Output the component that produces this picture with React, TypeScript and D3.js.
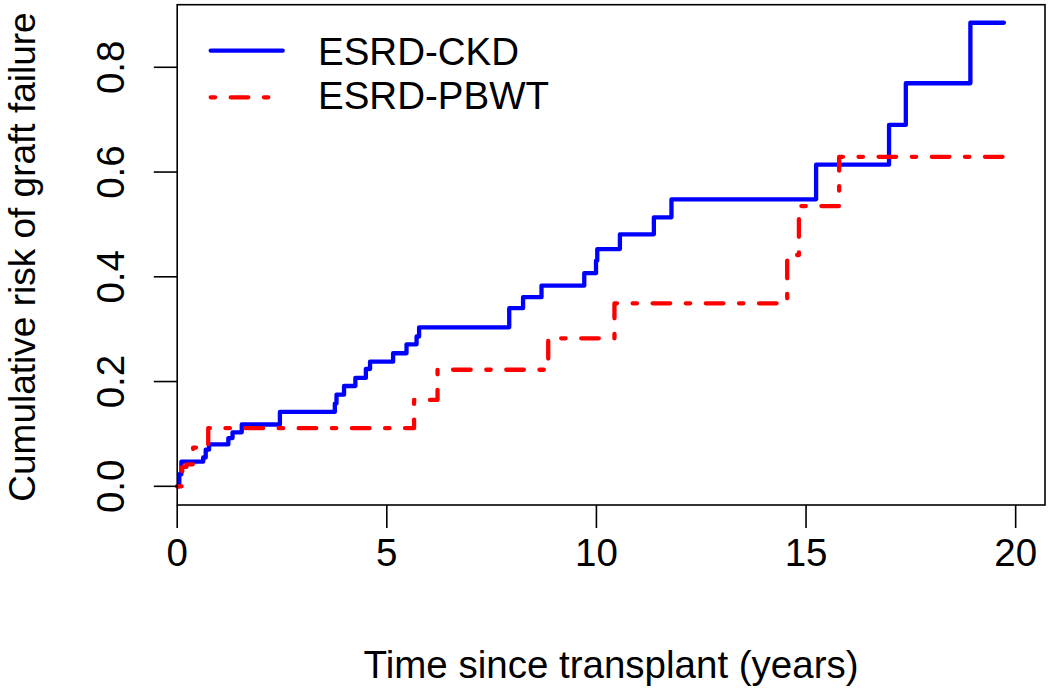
import React from "react";
import * as d3 from "d3";

const ckdTimes = [0, 0.05, 0.1, 0.62, 0.68, 0.76, 1.22, 1.32, 1.54, 2.45, 3.76, 3.8, 3.98, 4.25, 4.5, 4.6, 5.15, 5.47, 5.71, 5.77, 7.92, 8.25, 8.69, 9.71, 9.99, 10.02, 10.56, 11.37, 11.79, 15.24, 16.98, 17.38, 18.92, 19.72];
const ckdRisk = [0, 0.023, 0.047, 0.055, 0.07, 0.08, 0.092, 0.103, 0.118, 0.142, 0.158, 0.175, 0.1915, 0.207, 0.224, 0.238, 0.254, 0.271, 0.286, 0.3036, 0.34, 0.361, 0.383, 0.407, 0.431, 0.453, 0.481, 0.5136, 0.548, 0.614, 0.69, 0.7695, 0.885, 0.885];

const pbwtTimes = [0, 0.12, 0.22, 0.38, 0.74, 5.65, 6.21, 8.85, 10.43, 14.55, 14.83, 15.79, 19.72];
const pbwtRisk = [0, 0.037, 0.042, 0.074, 0.111, 0.165, 0.2225, 0.2826, 0.3494, 0.4416, 0.535, 0.629, 0.629];

const xTicks = [0, 5, 10, 15, 20];
const yTicks = [0, 0.2, 0.4, 0.6, 0.8];
const seriesNames = ["ESRD-CKD", "ESRD-PBWT"];

const FONT = "'Liberation Sans', Arial, Helvetica, sans-serif";

export default function App() {
  const left = 177.2, right = 1045, top = 4.7, bottom = 505;
  const x = d3.scaleLinear().domain([0, 20.7]).range([left, right]);
  const y = d3.scaleLinear().domain([-0.0357, 0.9195]).range([bottom, top]);

  const line = d3
    .line<[number, number]>()
    .x((d) => x(d[0]))
    .y((d) => y(d[1]))
    .curve(d3.curveStepAfter);

  const ckd = line(ckdTimes.map((t, i) => [t, ckdRisk[i]] as [number, number])) || "";
  const pbwt = line(pbwtTimes.map((t, i) => [t, pbwtRisk[i]] as [number, number])) || "";

  const fs = 38.5;
  const dash = "4.4 15.6 17.6 15.6";

  return (
    <div style={{ position: "absolute", left: 0, top: 0 }}>
      <svg width={1050} height={692} style={{ display: "block", background: "#fff" }}>
        <rect x={0} y={0} width={1050} height={692} fill="#fff" />
        <path d={ckd} fill="none" stroke="#0000ff" strokeWidth={4.3} strokeLinejoin="round" strokeLinecap="round" />
        <path d={pbwt} fill="none" stroke="#ff0000" strokeWidth={4.3} strokeDasharray={dash} strokeLinejoin="round" strokeLinecap="round" />
        <rect x={left} y={top} width={right - left} height={bottom - top} fill="none" stroke="#000" strokeWidth={1.6} />
        {xTicks.map((t) => (
          <g key={"x" + t}>
            <line x1={x(t)} x2={x(t)} y1={bottom} y2={bottom + 23} stroke="#000" strokeWidth={1.6} />
            <text x={x(t)} y={566} textAnchor="middle" fontFamily={FONT} fontSize={fs} fill="#000">
              {t}
            </text>
          </g>
        ))}
        {yTicks.map((v) => (
          <g key={"y" + v}>
            <line x1={left - 23.4} x2={left} y1={y(v)} y2={y(v)} stroke="#000" strokeWidth={1.6} />
            <text transform={`translate(124,${y(v)}) rotate(-90)`} textAnchor="middle" fontFamily={FONT} fontSize={fs} fill="#000">
              {v.toFixed(1)}
            </text>
          </g>
        ))}
        <text x={(left + right) / 2} y={678} textAnchor="middle" fontFamily={FONT} fontSize={fs} fill="#000">
          Time since transplant (years)
        </text>
        <text transform={`translate(35,257) rotate(-90)`} textAnchor="middle" fontFamily={FONT} fontSize={37} fill="#000">
          Cumulative risk of graft failure
        </text>
        <line x1={210.7} x2={282.7} y1={50.7} y2={50.7} stroke="#0000ff" strokeWidth={4.3} strokeLinecap="round" />
        <line x1={210.7} x2={282.7} y1={97.3} y2={97.3} stroke="#ff0000" strokeWidth={4.3} strokeDasharray={dash} strokeLinecap="round" />
        <text x={318} y={64.5} fontFamily={FONT} fontSize={fs} fill="#000">
          {seriesNames[0]}
        </text>
        <text x={318} y={109} fontFamily={FONT} fontSize={fs} fill="#000">
          {seriesNames[1]}
        </text>
      </svg>
    </div>
  );
}
